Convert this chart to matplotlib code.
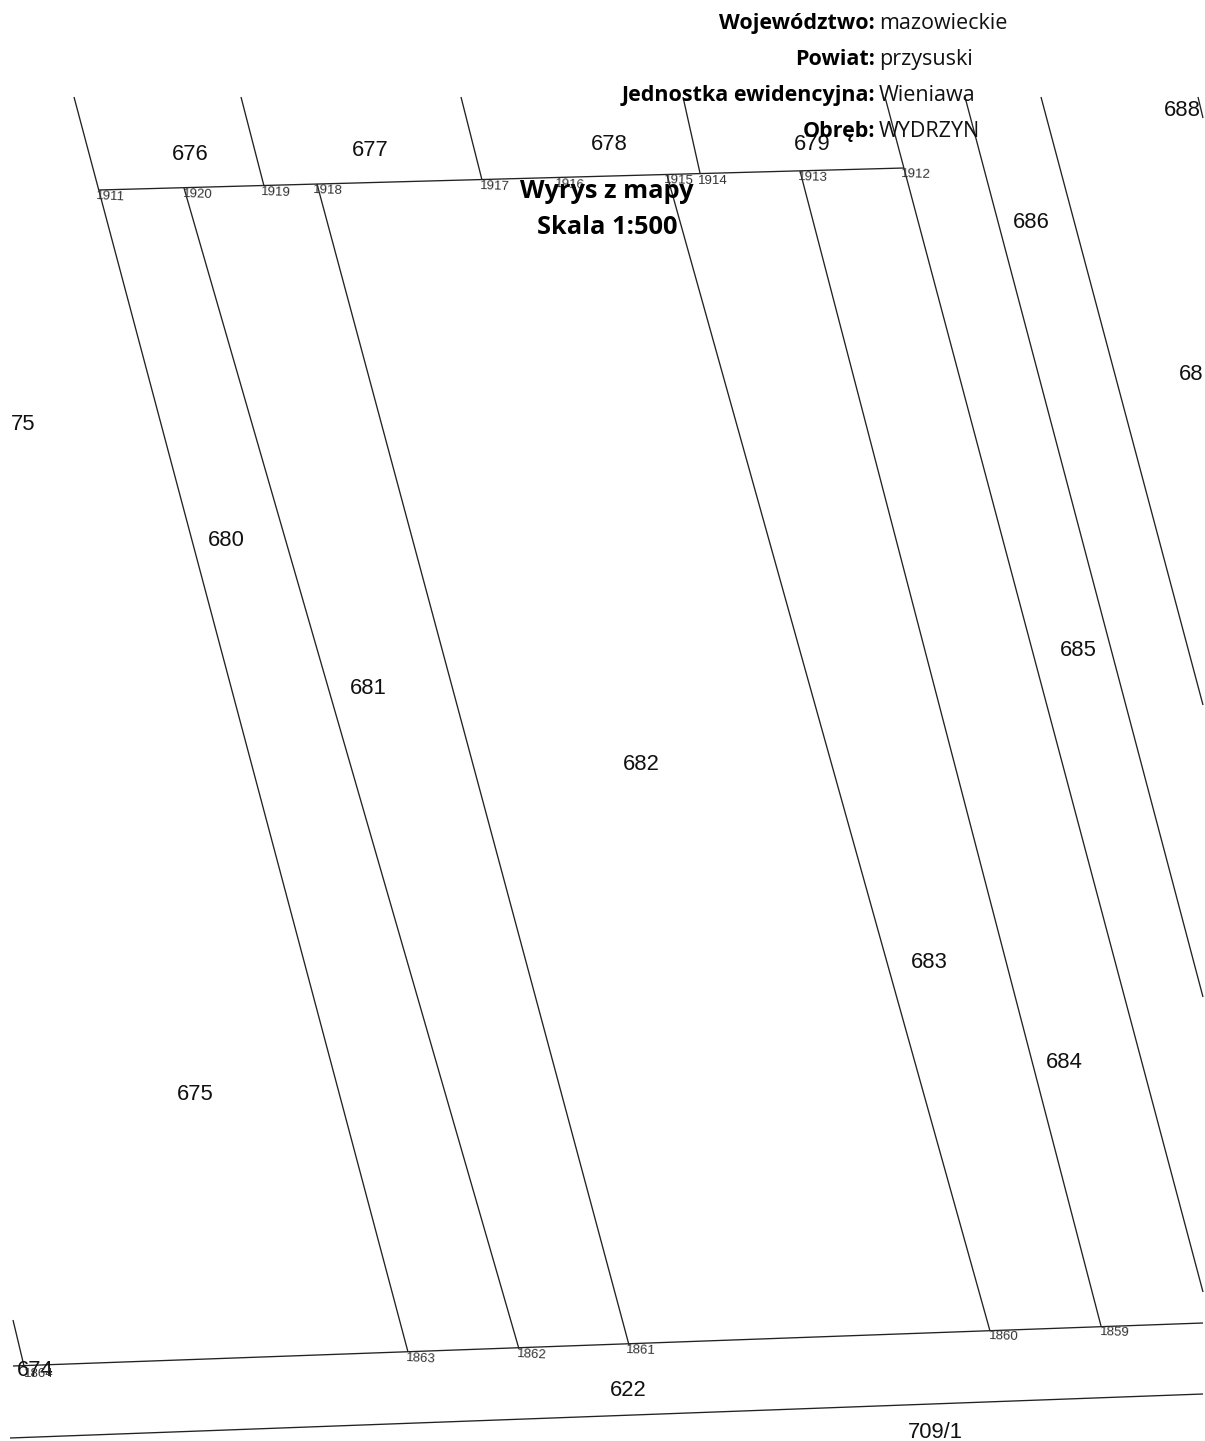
import matplotlib
matplotlib.use("Agg")
import matplotlib.pyplot as plt

W, H = 1205, 1441

road_lines = [
    (99, 190, 904, 168),
    (13, 1366, 1203, 1323),
    (10, 1438, 1203, 1394),
]
parcel_lines = [
    (74, 97, 408, 1352),
    (184, 188, 519, 1349),
    (241, 97, 264, 186),
    (317, 184, 629, 1345),
    (461, 97, 482, 180),
    (683, 97, 700, 173),
    (667, 175, 990, 1331),
    (800, 171, 1101, 1326),
    (885, 97, 1203, 1292),
    (965, 97, 1203, 997),
    (1041, 97, 1203, 705),
    (1198, 97, 1203, 118),
    (13, 1320, 24, 1366),
]

# Parcel numbers: text, x centre, y centre
parcel_text = ["676", "677", "678", "679", "686", "688", "68", "75", "680", "681", "682",
               "685", "683", "684", "675", "674", "622", "709/1"]
parcel_x = [190, 370, 609, 812, 1031, 1182, 1191, 23, 226, 368, 641,
            1078, 929, 1064, 195, 35, 628, 935]
parcel_y = [154, 151, 145, 145, 222, 110, 375, 425, 540, 688, 764,
            650, 962, 1063, 1094, 1371, 1390, 1432]

# Point numbers: text, x centre, y centre, rotation
point_text = ["1911", "1920", "1919", "1918", "1917", "1916", "1915", "1914", "1913", "1912",
              "1863", "1862", "1861", "1860", "1859", "1864"]
point_x = [111, 198, 276, 328, 495, 570, 679, 713, 813, 916,
           421, 532, 641, 1004, 1115, 39]
point_y = [197, 195, 193, 191, 187, 185, 181, 181, 178, 175,
           1359, 1355, 1351, 1337, 1333, 1374]
point_rot = [-3, -2, -2, -2, -2, -3, -2, 0, -2, -2,
             -3, -3, -2, -2, -2, 0]

# Header rows, y is the text baseline
label_bold = ["Województwo:", "Powiat:", "Jednostka ewidencyjna:", "Obręb:"]
label_value = ["mazowieckie", "przysuski", "Wieniawa", "WYDRZYN"]
label_y = [29, 65, 101, 137]
title_lines = ["Wyrys z mapy", "Skala 1:500"]
title_y = [198, 234]

fig = plt.figure(figsize=(W / 100, H / 100), dpi=100, facecolor="white")
ax = fig.add_axes([0, 0, 1, 1])
ax.set_xlim(0, W)
ax.set_ylim(H, 0)
ax.axis("off")

for x1, y1, x2, y2 in road_lines + parcel_lines:
    ax.plot([x1, x2], [y1, y2], color="#222222", lw=0.95, solid_capstyle="butt")

arial = ["Liberation Sans", "DejaVu Sans"]
for t, x, y in zip(parcel_text, parcel_x, parcel_y):
    ax.text(x, y, t, ha="center", va="center", fontsize=15.8, family=arial, color="#111111")

for t, x, y, r in zip(point_text, point_x, point_y, point_rot):
    ax.text(x, y, t, ha="center", va="center", fontsize=9.5, family=arial, color="#333333",
            rotation=r, rotation_mode="anchor")

sans = ["Open Sans", "DejaVu Sans"]
for b, v, y in zip(label_bold, label_value, label_y):
    ax.text(875, y, b, ha="right", va="baseline", fontsize=15.5, family=sans, fontweight="bold", color="black")
    ax.text(879, y, v, ha="left", va="baseline", fontsize=15.5, family=sans, color="#111111")
for t, y in zip(title_lines, title_y):
    ax.text(607, y, t, ha="center", va="baseline", fontsize=18.3, family=sans, fontweight="bold", color="black")

fig.savefig("out.png", dpi=100, facecolor="white")
